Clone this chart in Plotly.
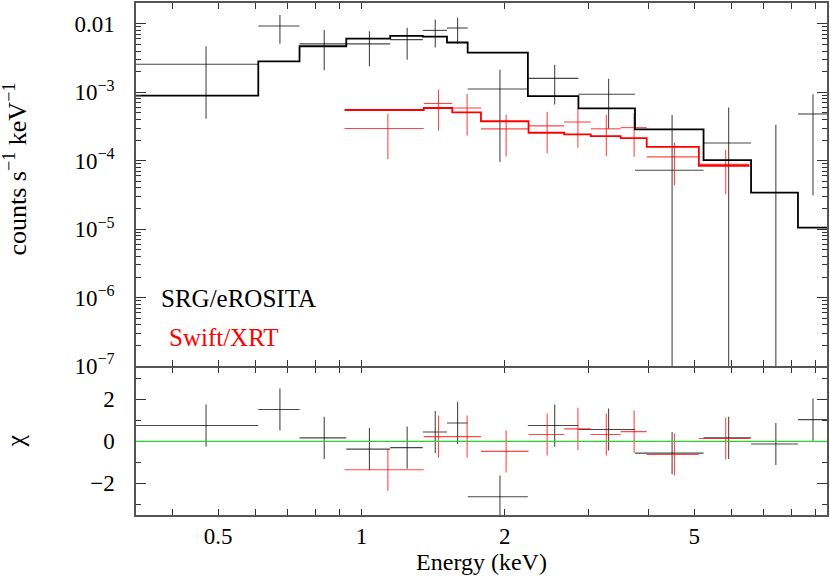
import numpy as np
import plotly.graph_objects as go

# ---------------- data ----------------
# SRG/eROSITA spectrum: energy bin edges (keV), rate (counts/s/keV), 1-sigma error, model, chi
ero_lo = [0.336, 0.607, 0.741, 0.929, 1.149, 1.345, 1.512, 1.671, 2.236, 2.855, 3.753, 5.229, 6.580, 8.256]
ero_hi = [0.607, 0.741, 0.929, 1.149, 1.345, 1.512, 1.671, 2.236, 2.855, 3.753, 5.229, 6.580, 8.256, 9.500]
ero_rate = [2.56e-3, 9.26e-3, 5.09e-3, 5.09e-3, 5.87e-3, 8.00e-3, 8.67e-3, 1.116e-3, 1.592e-3, 9.36e-4,
            7.24e-5, 1.813e-4, -1.1e-5, 4.81e-4]
ero_err = [2.15e-3, 4.15e-3, 3.00e-3, 2.70e-3, 2.90e-3, 3.50e-3, 3.60e-3, 1.02e-3, 9.3e-4, 6.4e-4,
           3.94e-4, 4.18e-4, 3.45e-4, 4.50e-4]
ero_model = [8.93e-4, 2.83e-3, 4.69e-3, 6.07e-3, 6.65e-3, 6.49e-3, 5.32e-3, 3.78e-3, 8.78e-4, 5.80e-4,
             2.86e-4, 1.02e-4, 3.41e-5, 1.054e-5]
ero_chi = [0.75, 1.51, 0.16, -0.37, -0.30, 0.44, 0.87, -2.63, 0.75, 0.56, -0.56, 0.16, -0.13, 1.03]
ero_chi_err = [1.0, 1.0, 1.0, 1.0, 1.0, 1.0, 1.0, 1.0, 1.0, 1.0, 1.0, 1.0, 1.0, 1.0]

# Swift/XRT spectrum
xrt_lo = [0.921, 1.351, 1.551, 1.782, 2.243, 2.665, 3.031, 3.503, 3.972, 5.112]
xrt_hi = [1.351, 1.551, 1.782, 2.243, 2.665, 3.031, 3.503, 3.972, 5.112, 6.530]
xrt_rate = [2.95e-4, 6.85e-4, 5.88e-4, 2.92e-4, 3.23e-4, 3.67e-4, 2.92e-4, 3.04e-4, 1.138e-4, 8.84e-5]
xrt_err = [1.89e-4, 4.10e-4, 3.55e-4, 1.77e-4, 1.96e-4, 2.13e-4, 1.76e-4, 1.90e-4, 7.0e-5, 5.6e-5]
xrt_model = [5.50e-4, 5.88e-4, 5.08e-4, 3.77e-4, 2.56e-4, 2.42e-4, 2.29e-4, 2.14e-4, 1.587e-4, 8.44e-5]
xrt_chi = [-1.35, 0.22, 0.22, -0.48, 0.32, 0.59, 0.32, 0.46, -0.63, 0.13]
xrt_chi_err = [1.0, 1.0, 1.0, 1.0, 1.0, 1.0, 1.0, 1.0, 1.0, 1.0]

x_tick_vals = [0.5, 1, 2, 5]
x_tick_text = ["0.5", "1", "2", "5"]
y_tick_vals = [1e-7, 1e-6, 1e-5, 1e-4, 1e-3, 1e-2]
y_tick_text = ["10<sup>−7</sup>", "10<sup>−6</sup>", "10<sup>−5</sup>", "10<sup>−4</sup>", "10<sup>−3</sup>", "0.01"]
chi_tick_vals = [-2, 0, 2]
chi_tick_text = ["−2", "0", "2"]

E_MIN, E_MAX = 0.336, 9.5
RATE_MIN, RATE_MAX = 1e-7, 0.0201
CHI_MIN, CHI_MAX = -3.5, 3.5

# ---------------- helpers ----------------
LOG_FLOOR = 1e-12


def crosses(lo, hi, val, err, log=False):
    xs, ys = [], []
    for l, h, v, e in zip(lo, hi, val, err):
        c = 0.5 * (l + h)
        if (not log) or v > 0:
            xs += [l, h, None]
            ys += [v, v, None]
        bot = v - e
        if log and bot <= 0:
            bot = LOG_FLOOR
        xs += [c, c, None]
        ys += [bot, v + e, None]
    return xs, ys


def step(lo, hi, m):
    return list(lo) + [hi[-1]], list(m) + [m[-1]]


BLACK_X = "rgba(0,0,0,0.72)"
RED_X = "rgba(255,0,0,0.72)"
FONT = "Liberation Serif"
FS = 23

fig = go.Figure()

# top panel: data crosses and models
for lo, hi, val, err, col in [(ero_lo, ero_hi, ero_rate, ero_err, BLACK_X),
                              (xrt_lo, xrt_hi, xrt_rate, xrt_err, RED_X)]:
    xs, ys = crosses(lo, hi, val, err, log=True)
    fig.add_trace(go.Scatter(x=xs, y=ys, mode="lines", xaxis="x2", yaxis="y2",
                             line=dict(color=col, width=1.1), showlegend=False, hoverinfo="skip"))

for lo, hi, m, col in [(ero_lo, ero_hi, ero_model, "black"), (xrt_lo, xrt_hi, xrt_model, "red")]:
    sx, sy = step(lo, hi, m)
    fig.add_trace(go.Scatter(x=sx, y=sy, mode="lines", line_shape="hv", xaxis="x2", yaxis="y2",
                             line=dict(color=col, width=1.8), showlegend=False, hoverinfo="skip"))

# bottom panel: residual crosses
for lo, hi, val, err, col in [(ero_lo, ero_hi, ero_chi, ero_chi_err, BLACK_X),
                              (xrt_lo, xrt_hi, xrt_chi, xrt_chi_err, RED_X)]:
    xs, ys = crosses(lo, hi, val, err)
    fig.add_trace(go.Scatter(x=xs, y=ys, mode="lines", xaxis="x", yaxis="y",
                             line=dict(color=col, width=1.1), showlegend=False, hoverinfo="skip"))

# zero line in residual panel
fig.add_shape(type="line", xref="x domain", yref="y", x0=0, x1=1, y0=0, y1=0,
              line=dict(color="rgb(40,210,40)", width=1.2), layer="above")

xr = [np.log10(E_MIN), np.log10(E_MAX)]
LINEC = "#555555"
TICKC = "#333333"
LW = 1.5
minor_x = [0.4, 0.6, 0.7, 0.8, 0.9, 3, 4, 6, 7, 8, 9]
minor_y = [k * 10.0 ** p for p in range(-7, -1) for k in range(2, 10)]

common_x = dict(type="log", range=xr, showline=True, linecolor=LINEC, linewidth=LW,
                mirror="allticks", ticks="inside", ticklen=6, tickwidth=1, tickcolor=TICKC,
                tickvals=x_tick_vals, ticktext=x_tick_text, showgrid=False, zeroline=False,
                minor=dict(tickvals=minor_x, ticks="inside", ticklen=6, tickwidth=1, tickcolor=TICKC,
                           showgrid=False))

long_tick = dict(type="log", range=xr, showline=True, linecolor="rgba(0,0,0,0)", linewidth=1,
                 mirror="allticks", ticks="inside", ticklen=10, tickwidth=1, tickcolor=TICKC,
                 tickvals=[1], showticklabels=False, showgrid=False, zeroline=False)

PLOT_H = 514
SPLIT = 148 / PLOT_H
SPLIT_TOP = SPLIT + LW / PLOT_H  # lets the two frame lines at the divider coincide

fig.update_layout(
    width=830, height=576,
    margin=dict(l=136, r=2, t=1, b=61),
    paper_bgcolor="white", plot_bgcolor="white",
    font=dict(family=FONT, size=FS, color="black"),
    xaxis=dict(common_x, anchor="y", domain=[0, 1], ticklabelstandoff=0,
               title=dict(text="Energy (keV)", standoff=4, font=dict(size=24))),
    xaxis2=dict(common_x, anchor="y2", matches="x", showticklabels=False),
    xaxis3=dict(long_tick, overlaying="x", anchor="y"),
    xaxis4=dict(long_tick, overlaying="x2", anchor="y2"),
    yaxis=dict(range=[CHI_MIN, CHI_MAX], domain=[0, SPLIT], anchor="x",
               showline=True, linecolor=LINEC, linewidth=LW, mirror="allticks",
               ticks="inside", ticklen=10, tickwidth=1, tickcolor=TICKC,
               tickvals=chi_tick_vals, ticktext=chi_tick_text, showgrid=False, zeroline=False,
               ticklabelstandoff=15,
               minor=dict(tickvals=[-3, -1, 1, 3], ticks="inside", ticklen=5.5, tickwidth=1,
                          tickcolor=TICKC, showgrid=False)),
    yaxis2=dict(type="log", range=[np.log10(RATE_MIN), np.log10(RATE_MAX)], domain=[SPLIT_TOP, 1],
                anchor="x2", showline=True, linecolor=LINEC, linewidth=LW, mirror="allticks",
                ticks="inside", ticklen=10, tickwidth=1, tickcolor=TICKC,
                tickvals=y_tick_vals, ticktext=y_tick_text, showgrid=False, zeroline=False,
                ticklabelstandoff=15,
                minor=dict(tickvals=minor_y, ticks="inside", ticklen=5.5, tickwidth=1,
                           tickcolor=TICKC, showgrid=False)),
    annotations=[
        # axis titles
        dict(text="counts s<sup>−1</sup> keV<sup>−1</sup>", xref="paper", yref="paper",
             x=(15 - 136) / 692, y=(515 - 168) / PLOT_H, xanchor="center", yanchor="middle",
             textangle=-90, showarrow=False, font=dict(size=26)),
        dict(text="χ", xref="paper", yref="paper",
             x=(15 - 136) / 692, y=(515 - 441) / PLOT_H, xanchor="center", yanchor="middle",
             textangle=-90, showarrow=False, font=dict(size=26)),
        # spectrum labels
        dict(text="SRG/eROSITA", xref="paper", yref="paper", x=(159 - 136) / 692, y=(515 - 298) / PLOT_H,
             xanchor="left", yanchor="middle", showarrow=False, font=dict(color="black", size=25)),
        dict(text="Swift/XRT", xref="paper", yref="paper", x=(167 - 136) / 692, y=(515 - 337) / PLOT_H,
             xanchor="left", yanchor="middle", showarrow=False, font=dict(color="red", size=25)),
    ],
)

fig.write_html("out.html", config={"displayModeBar": False},
               post_script="document.body.style.margin='0';document.body.style.padding='0';")
